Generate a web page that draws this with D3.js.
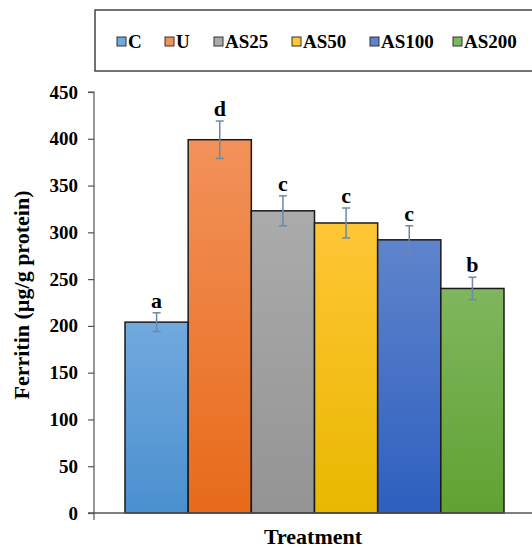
<!DOCTYPE html>
<html lang="en">
<head>
    <meta charset="UTF-8">
    <title>Ferritin</title>
    <script src="https://d3js.org/d3.v7.min.js"></script>
    <style>
        body { margin: 0; background: #fff; }
        svg text { font-family: "Liberation Serif", "Times New Roman", serif; font-weight: bold; fill: #000; }
    </style>
</head>
<body>
    <svg width="532" height="548"></svg>

    <script>
        // datos
        const groups = ["C", "U", "AS25", "AS50", "AS100", "AS200"];
        const means = [204, 399, 323, 310, 292, 240];
        const errs = [10, 20, 16, 16, 15, 12];
        const letters = ["a", "d", "c", "c", "c", "b"];
        const yTicks = [0, 50, 100, 150, 200, 250, 300, 350, 400, 450];

        const topColors = ["#72a9de", "#f2925a", "#ababab", "#ffc636", "#5f84cc", "#80b65e"];
        const bottomColors = ["#4a90cf", "#e86a1a", "#949494", "#e8b800", "#2e5fbf", "#60a232"];

        const svg = d3.select("svg");
        const x0 = 94, yBottom = 513, yTop = 92;

        const y = d3.scaleLinear().domain([0, 450]).range([yBottom, yTop]);
        const x = d3.scaleBand().domain(groups).range([125, 504]).padding(0);

        // gradientes
        const defs = svg.append("defs");
        groups.forEach((g, i) => {
            const grad = defs.append("linearGradient")
                .attr("id", "grad" + i)
                .attr("x1", 0).attr("y1", 0).attr("x2", 0).attr("y2", 1);
            grad.append("stop").attr("offset", "0%").attr("stop-color", topColors[i]);
            grad.append("stop").attr("offset", "100%").attr("stop-color", bottomColors[i]);
        });

        // leyenda
        svg.append("rect")
            .attr("x", 95).attr("y", 10).attr("width", 460).attr("height", 61)
            .attr("fill", "none").attr("stroke", "#444").attr("stroke-width", 1.5);

        const legendX = [117, 165, 214, 292, 370, 453];
        const leg = svg.selectAll(".leg")
            .data(groups)
            .enter()
            .append("g")
            .attr("class", "leg")
            .attr("transform", (d, i) => `translate(${legendX[i]},42)`);
        leg.append("rect")
            .attr("x", 0).attr("y", -5).attr("width", 9).attr("height", 9)
            .attr("fill", (d, i) => topColors[i])
            .attr("stroke", "#333").attr("stroke-width", 1);
        leg.append("text")
            .attr("x", 11).attr("y", 6)
            .style("font-size", "19px")
            .text(d => d);

        // barras
        svg.selectAll(".bar")
            .data(means)
            .enter()
            .append("rect")
            .attr("class", "bar")
            .attr("x", (d, i) => x(groups[i]))
            .attr("y", d => y(d))
            .attr("width", x.bandwidth())
            .attr("height", d => yBottom - y(d))
            .attr("fill", (d, i) => `url(#grad${i})`)
            .attr("stroke", "#1a1a1a")
            .attr("stroke-width", 1.5);

        // barras de error
        const eb = svg.selectAll(".err")
            .data(means)
            .enter()
            .append("g")
            .attr("class", "err")
            .attr("stroke", "#6a89ab")
            .attr("stroke-width", 1.5);
        const cx = i => x(groups[i]) + x.bandwidth() / 2;
        eb.append("line")
            .attr("x1", (d, i) => cx(i)).attr("x2", (d, i) => cx(i))
            .attr("y1", (d, i) => y(d + errs[i])).attr("y2", (d, i) => y(d - errs[i]));
        eb.append("line")
            .attr("x1", (d, i) => cx(i) - 4).attr("x2", (d, i) => cx(i) + 4)
            .attr("y1", (d, i) => y(d + errs[i])).attr("y2", (d, i) => y(d + errs[i]));
        eb.append("line")
            .attr("x1", (d, i) => cx(i) - 4).attr("x2", (d, i) => cx(i) + 4)
            .attr("y1", (d, i) => y(d - errs[i])).attr("y2", (d, i) => y(d - errs[i]));

        // letras
        svg.selectAll(".lett")
            .data(letters)
            .enter()
            .append("text")
            .attr("x", (d, i) => cx(i))
            .attr("y", (d, i) => y(means[i] + errs[i]) - 5)
            .attr("text-anchor", "middle")
            .style("font-size", "22px")
            .text(d => d);

        // eje y
        const yAxis = svg.append("g")
            .attr("transform", `translate(${x0},0)`)
            .call(d3.axisLeft(y).tickValues(yTicks).tickSize(6).tickPadding(10));
        yAxis.selectAll("line, path").attr("stroke", "#555").attr("stroke-width", 1.2);
        yAxis.select(".domain").attr("d", `M-6,${yTop}H0V${yBottom}`);
        yAxis.selectAll(".tick text").attr("font-family", null).attr("font-size", null)
            .style("font-size", "19px");

        // eje x
        svg.append("line")
            .attr("x1", 88).attr("x2", 532)
            .attr("y1", yBottom).attr("y2", yBottom)
            .attr("stroke", "#555").attr("stroke-width", 1.5);
        svg.append("line")
            .attr("x1", x0).attr("x2", x0)
            .attr("y1", yBottom).attr("y2", yBottom + 7)
            .attr("stroke", "#555").attr("stroke-width", 1.2);

        // titulos
        svg.append("text")
            .attr("transform", "translate(29,295) rotate(-90)")
            .attr("text-anchor", "middle")
            .style("font-size", "22px")
            .text("Ferritin (µg/g protein)");

        svg.append("text")
            .attr("x", 313).attr("y", 544)
            .attr("text-anchor", "middle")
            .style("font-size", "22px")
            .text("Treatment");
    </script>
</body>
</html>
